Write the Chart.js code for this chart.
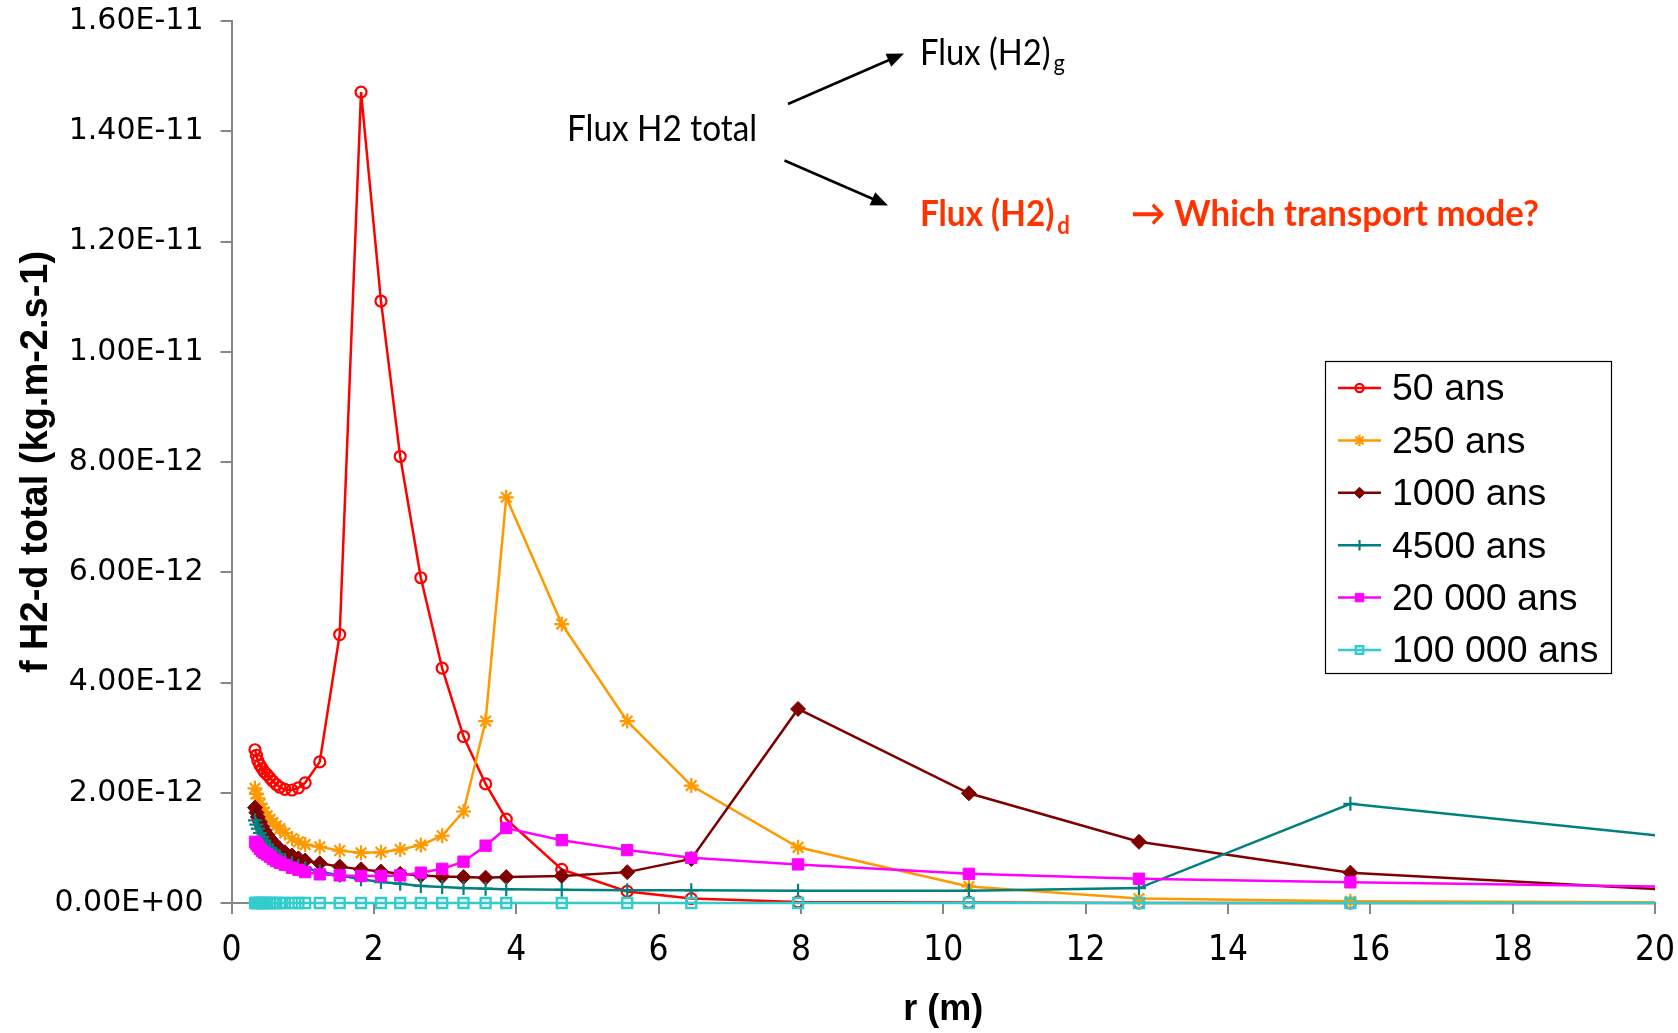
<!DOCTYPE html>
<html><head><meta charset="utf-8">
<script src="https://cdn.jsdelivr.net/npm/chart.js@4.4.1/dist/chart.umd.min.js"></script>
<style>html,body{margin:0;padding:0;background:#fff;overflow:hidden}canvas{display:block}</style>
</head><body>
<canvas id="c" width="1678" height="1033"></canvas>
<script>
// ---------- DATA (values in units of 1E-12 kg.m-2.s-1) ----------
const UNIT = 1e-12;
const r = [0.33,0.35,0.37,0.40,0.43,0.46,0.50,0.54,0.58,0.63,0.68,0.75,0.85,0.94,1.035,
           1.24,1.52,1.82,2.10,2.37,2.66,2.96,3.26,3.57,3.86,4.64,5.56,6.46,7.96,10.36,12.75,15.72,20.5];
const seriesNames = ['50 ans','250 ans','1000 ans','4500 ans','20 000 ans','100 000 ans'];
const f50 = [2.78,2.68,2.58,2.50,2.44,2.38,2.33,2.27,2.21,2.15,2.10,2.06,2.05,2.09,2.18,
             2.56,4.87,14.71,10.92,8.10,5.90,4.26,3.02,2.16,1.52,0.61,0.21,0.08,0.02,0.01,0.00,0.00,0.00];
const f250 = [2.08,1.98,1.90,1.80,1.72,1.65,1.58,1.52,1.46,1.40,1.35,1.27,1.17,1.11,1.06,
              1.02,0.95,0.91,0.92,0.97,1.05,1.22,1.66,3.30,7.36,5.06,3.30,2.13,1.01,0.30,0.08,0.03,0.01];
const f1000 = [1.73,1.64,1.56,1.47,1.39,1.32,1.24,1.17,1.11,1.04,0.98,0.92,0.86,0.81,0.77,
               0.72,0.66,0.61,0.57,0.53,0.50,0.48,0.47,0.46,0.47,0.49,0.56,0.80,3.52,1.99,1.11,0.55,0.22];
const f4500 = [1.50,1.42,1.35,1.27,1.20,1.13,1.06,1.00,0.95,0.89,0.84,0.78,0.72,0.67,0.63,
               0.57,0.50,0.43,0.38,0.35,0.31,0.29,0.27,0.26,0.25,0.24,0.23,0.23,0.22,0.22,0.27,1.80,1.16];
const f20000 = [1.11,1.07,1.03,0.98,0.94,0.91,0.88,0.84,0.80,0.76,0.73,0.69,0.64,0.60,0.56,
                0.52,0.50,0.49,0.49,0.50,0.55,0.62,0.75,1.04,1.36,1.14,0.96,0.82,0.70,0.53,0.44,0.375,0.29];
const f100000 = [0,0,0,0,0,0,0,0,0,0,0,0,0,0,0,
                 0,0,0,0,0,0,0,0,0,0,0,0,0,0,0,0,0,0];
const xTicks = [0,2,4,6,8,10,12,14,16,18,20];
const yTicks = [0,2,4,6,8,10,12,14,16];

// ---------- STYLES ----------
const styles = [
  {color:'#FF0000', pointStyle:'circle',  radius:5.5, bg:'rgba(0,0,0,0)', bw:2.2},
  {color:'#FF9900', pointStyle:'star',    radius:7.5, bg:'#FF9900',       bw:2.2},
  {color:'#800000', pointStyle:'rectRot', radius:7.5, bg:'#800000',       bw:1},
  {color:'#008080', pointStyle:'cross',   radius:7,   bg:'#008080',       bw:2.2},
  {color:'#FF00FF', pointStyle:'rect',    radius:8,   bg:'#FF00FF',       bw:1},
  {color:'#33CCCC', pointStyle:'rect',    radius:7,   bg:'rgba(0,0,0,0)', bw:2.4}
];
const values = [f50,f250,f1000,f4500,f20000,f100000];

const datasets = values.map((vals,i)=>({
  label: seriesNames[i],
  data: r.map((x,k)=>({x:x, y:vals[k]})),
  borderColor: styles[i].color,
  backgroundColor: styles[i].bg,
  borderWidth: 2.5,
  pointStyle: styles[i].pointStyle,
  pointRadius: styles[i].radius,
  pointBorderWidth: styles[i].bw,
  pointBorderColor: styles[i].color,
  pointBackgroundColor: styles[i].bg,
  showLine: true,
  tension: 0,
  order: 10 - i,
  clip: {left: 12, top: 12, right: 0, bottom: 12}
}));

function fmtSci(v){
  const x = v*UNIT;
  if (Math.abs(x) < 1e-30) return '0.00E+00';
  const parts = x.toExponential(2).split('e');
  const n = parseInt(parts[1],10);
  return parts[0] + 'E' + (n<0?'-':'+') + String(Math.abs(n)).padStart(2,'0');
}

// ---------- LEGEND PLUGIN ----------
const legendPlugin = {
  id:'boxLegend',
  afterDraw(chart){
    const ctx = chart.ctx;
    ctx.save();
    ctx.lineWidth = 1.2; ctx.strokeStyle = '#000';
    ctx.strokeRect(1325.5, 361.5, 286, 312);
    ctx.font = '37.5px "Liberation Sans", Arial, sans-serif';
    ctx.textBaseline = 'middle'; ctx.textAlign = 'left';
    seriesNames.forEach((name,i)=>{
      const y = 388 + i*52.4;
      const st = styles[i];
      ctx.strokeStyle = st.color; ctx.lineWidth = 2.5;
      ctx.beginPath(); ctx.moveTo(1338,y); ctx.lineTo(1381,y); ctx.stroke();
      ctx.fillStyle = st.bg; ctx.strokeStyle = st.color; ctx.lineWidth = st.bw;
      Chart.helpers.drawPoint(ctx, {pointStyle: st.pointStyle, radius: st.radius*0.75, rotation:0, borderWidth: st.bw}, 1359.5, y);
      ctx.fillStyle = '#000';
      ctx.fillText(name, 1392, y+2);
    });
    ctx.restore();
  }
};

// ---------- ANNOTATION PLUGIN ----------
function arrow(ctx,x1,y1,x2,y2){
  const a = Math.atan2(y2-y1,x2-x1), L=17, W=7;
  ctx.beginPath(); ctx.moveTo(x1,y1); ctx.lineTo(x2-L*0.7*Math.cos(a), y2-L*0.7*Math.sin(a)); ctx.stroke();
  ctx.beginPath(); ctx.moveTo(x2,y2);
  ctx.lineTo(x2-L*Math.cos(a)+W*Math.sin(a), y2-L*Math.sin(a)-W*Math.cos(a));
  ctx.lineTo(x2-L*Math.cos(a)-W*Math.sin(a), y2-L*Math.sin(a)+W*Math.cos(a));
  ctx.closePath(); ctx.fill();
}
function condText(ctx, text, x, y, sx){
  ctx.save(); ctx.translate(x, y); ctx.scale(sx, 1); ctx.fillText(text, 0, 0); ctx.restore();
  return ctx.measureText(text).width * sx;
}
const annotPlugin = {
  id:'annot',
  afterDraw(chart){
    const ctx = chart.ctx;
    ctx.save();
    ctx.textAlign='left'; ctx.textBaseline='alphabetic';
    const fam = 'Lato, "Open Sans", "DejaVu Sans", sans-serif';
    ctx.fillStyle='#000';
    ctx.font = '37px ' + fam;
    condText(ctx, 'Flux H2 total', 567, 141, 0.90);
    ctx.font = '36px ' + fam;
    let w = condText(ctx, 'Flux (H2)', 920, 65, 0.91);
    ctx.font = '24px ' + fam;
    condText(ctx, 'g', 920 + w + 3, 71, 0.91);
    ctx.strokeStyle='#000'; ctx.fillStyle='#000'; ctx.lineWidth=2.5;
    arrow(ctx, 788, 104, 904, 53.5);
    arrow(ctx, 784.5, 160.5, 888, 205.5);
    ctx.fillStyle='#FF3300';
    ctx.font = 'bold 36px ' + fam;
    w = condText(ctx, 'Flux (H2)', 920, 226, 0.925);
    ctx.font = 'bold 24px ' + fam;
    condText(ctx, 'd', 920 + w + 3, 234, 0.925);
    ctx.font = 'bold 36px ' + fam;
    condText(ctx, '\u2192 Which transport mode?', 1131, 226, 0.967);
    ctx.restore();
  }
};

Chart.defaults.font.family = '"Liberation Sans", Arial, sans-serif';
new Chart(document.getElementById('c'), {
  type: 'scatter',
  data: { datasets },
  options: {
    responsive: false,
    animation: false,
    devicePixelRatio: 1,
    layout: { padding: { left: 0, right: 23, top: 21, bottom: 0 } },
    plugins: { legend: { display:false }, tooltip: { enabled:false } },
    scales: {
      x: {
        type:'linear', min:0, max:20,
        afterBuildTicks: s => { s.ticks = xTicks.map(v=>({value:v})); },
        ticks: { font:{ family:'"Liberation Sans Narrow", "DejaVu Sans Condensed", "Liberation Sans", sans-serif', size:35 },
                 color:'#000', padding:16, maxRotation:0, autoSkip:false },
        grid: { drawOnChartArea:false, drawTicks:true, tickLength:11, color:'#868686', lineWidth:2 },
        border: { display:true, color:'#868686', width:2 },
        title: { display:true, text:'r (m)', color:'#000',
                 font:{ family:'"Liberation Sans", Arial, sans-serif', size:36, weight:'bold', lineHeight:1.2 },
                 padding:{ top:0, bottom:1 } },
        afterFit: s => { s.height = 130; s.paddingLeft = 0; s.paddingRight = 0; }
      },
      y: {
        type:'linear', min:0, max:16,
        afterBuildTicks: s => { s.ticks = yTicks.map(v=>({value:v})); },
        ticks: { font:{ family:'"DejaVu Sans", sans-serif', size:30 }, color:'#000', padding:17,
                 callback: v => fmtSci(v) },
        grid: { drawOnChartArea:false, drawTicks:true, tickLength:11, color:'#868686', lineWidth:2 },
        border: { display:true, color:'#868686', width:2 },
        title: { display:true, text:'f H2-d total (kg.m-2.s-1)', color:'#000',
                 font:{ family:'"Liberation Sans", Arial, sans-serif', size:38, weight:'bold', lineHeight:1.2 },
                 padding:{ top:14, bottom:0 } },
        afterFit: s => { s.width = 231.5; s.paddingTop = 0; s.paddingBottom = 0; }
      }
    }
  },
  plugins: [legendPlugin, annotPlugin]
});
</script>
</body></html>
